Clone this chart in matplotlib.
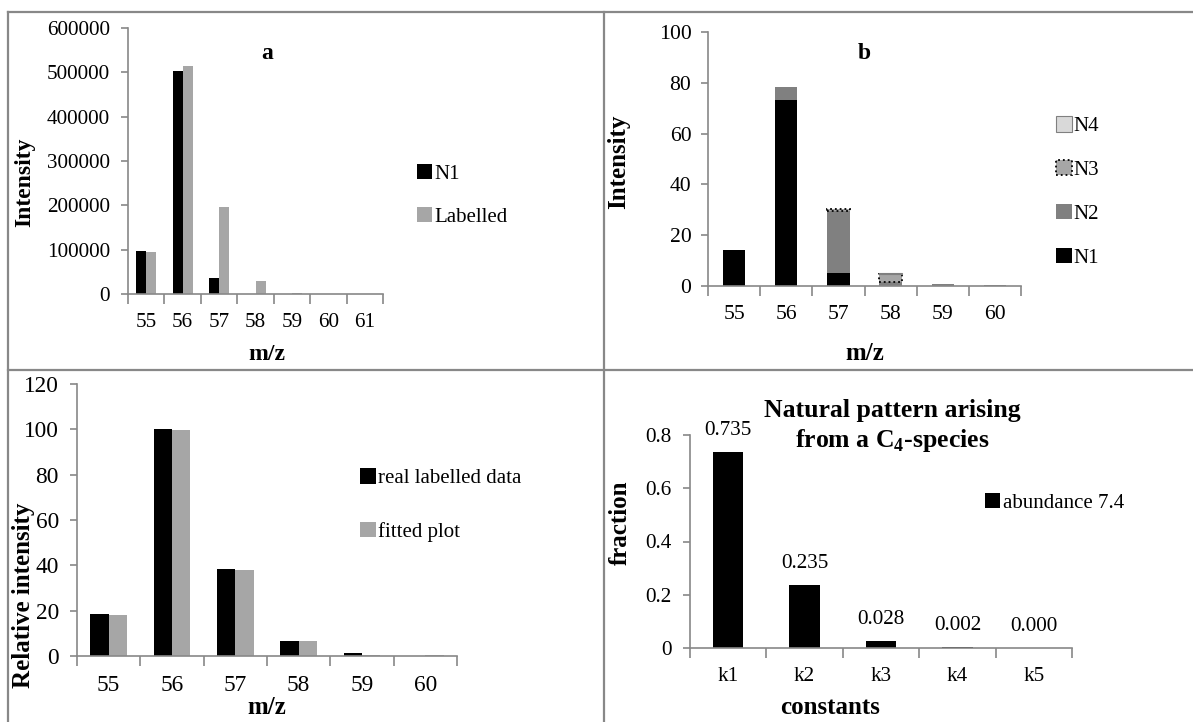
import numpy as np
import matplotlib
matplotlib.use('Agg')
import matplotlib.pyplot as plt
from matplotlib.lines import Line2D

plt.rcParams['font.family'] = ['Liberation Serif', 'DejaVu Serif']
plt.rcParams['font.size'] = 15
plt.rcParams['mathtext.fontset'] = 'custom'
plt.rcParams['mathtext.rm'] = 'Liberation Serif'
plt.rcParams['mathtext.bf'] = 'Liberation Serif:bold'

# panel a
mz_a = ['55', '56', '57', '58', '59', '60', '61']
n1_a = [96000, 503000, 37000, 0, 0, 0, 0]
labelled_a = [94000, 514000, 196000, 29000, 3000, 600, 300]

# panel b (stacked)
mz_b = ['55', '56', '57', '58', '59', '60']
n1_b = [14.2, 73.3, 5.2, 0, 0, 0]
n2_b = [0, 5.0, 24.4, 1.7, 0.7, 0.3]
n3_b = [0, 0, 0.6, 3.2, 0, 0]
n4_b = [0, 0, 0, 0.1, 0, 0]

# panel c
mz_c = ['55', '56', '57', '58', '59', '60']
real_c = [18.4, 100.3, 38.6, 6.8, 1.2, 0.2]
fitted_c = [17.9, 99.8, 38.1, 6.4, 0.6, 0.5]

# panel d
consts = ['k1', 'k2', 'k3', 'k4', 'k5']
fraction = [0.735, 0.235, 0.028, 0.002, 0.000]

W, H = 1193, 722
fig = plt.figure(figsize=(W / 100, H / 100), dpi=100)

SPINE = '#888888'


def px_axes(x0, y0, x1, y1):
    return fig.add_axes([x0 / W, 1 - y1 / H, (x1 - x0) / W, (y1 - y0) / H])


def excel_style(ax, labels, ymax, ystep, fs, ypad=8):
    n = len(labels)
    ax.set_xlim(-0.5, n - 0.5)
    ax.set_ylim(0, ymax)
    ax.set_yticks(np.arange(0, ymax + ystep / 2, ystep))
    ax.set_xticks(np.arange(-0.5, n, 1.0))
    ax.set_xticklabels([])
    ax.set_xticks(np.arange(n), minor=True)
    ax.set_xticklabels(labels, minor=True)
    ax.tick_params(axis='x', which='major', length=7, color=SPINE, width=1.2)
    ax.tick_params(axis='x', which='minor', length=0, pad=14, labelsize=fs)
    ax.tick_params(axis='y', length=5, color=SPINE, width=1.2, pad=ypad,
                   labelsize=fs)
    for s in ['top', 'right']:
        ax.spines[s].set_visible(False)
    for s in ['left', 'bottom']:
        ax.spines[s].set_color(SPINE)
        ax.spines[s].set_linewidth(1.2)


def labels(ax, xl, yl, xpos, ypos, fs=18):
    ax.set_xlabel(xl, fontweight='bold', fontsize=fs, va='center')
    ax.set_ylabel(yl, fontweight='bold', fontsize=fs)
    ax.xaxis.set_label_coords(*xpos)
    ax.yaxis.set_label_coords(*ypos)


def leg(ax, x, y, spacing=1.2, fs=15, **kw):
    lg = ax.legend(loc='center left', bbox_to_anchor=(x, y), frameon=False,
                   handlelength=0.75, handleheight=0.75, handletextpad=0.1,
                   labelspacing=spacing, borderaxespad=0, fontsize=fs, **kw)
    return lg


# ---- a
ax = px_axes(128, 28, 383, 294)
x = np.arange(len(mz_a))
w = 0.275
ax.bar(x - w / 2, n1_a, w, color='black', label='N1')
ax.bar(x + w / 2, labelled_a, w, color='#a6a6a6', label='Labelled')
excel_style(ax, mz_a, 600000, 100000, 15.2)
ax.text(0.545, 0.906, 'a', transform=ax.transAxes, ha='center', va='center',
        fontsize=17, fontweight='bold')
labels(ax, 'm/z', 'Intensity', ((267 - 128) / 255, (294 - 355) / 266),
       (-93 / 255, 0.42), fs=17)
leg(ax, 1.1, 0.37, spacing=1.1)

# ---- b
ax = px_axes(708, 32, 1021, 286)
x = np.arange(len(mz_b))
w = 0.43
b1 = ax.bar(x, n1_b, w, color='black', label='N1')
b2 = ax.bar(x, n2_b, w, bottom=n1_b, color='#808080', label='N2')
bot3 = np.add(n1_b, n2_b)
b3 = ax.bar(x, n3_b, w, bottom=bot3, color='#a6a6a6',
            edgecolor=['black' if v > 0 else 'none' for v in n3_b],
            linestyle=':', linewidth=1.3, label='N3')
bot4 = bot3 + np.array(n3_b)
b4 = ax.bar(x, n4_b, w, bottom=bot4, color='#d9d9d9',
            edgecolor=['#808080' if v > 0 else 'none' for v in n4_b],
            linewidth=0.8, label='N4')
excel_style(ax, mz_b, 100, 20, 15.6, ypad=7)
ax.text(0.5, 0.917, 'b', transform=ax.transAxes, ha='center', va='center',
        fontsize=17, fontweight='bold')
labels(ax, 'm/z', 'Intensity', (0.5, (286 - 354) / 254), (-78 / 313, 0.49))
h3 = plt.Rectangle((0, 0), 1, 1, facecolor='#a6a6a6', edgecolor='black',
                   linestyle=':', linewidth=1.3)
h4 = plt.Rectangle((0, 0), 1, 1, facecolor='#d9d9d9', edgecolor='#808080',
                   linewidth=0.8)
leg(ax, 1.085, 0.37, spacing=1.15, handles=[h4, h3, b2, b1],
    labels=['N4', 'N3', 'N2', 'N1'])

# ---- c
ax = px_axes(77, 384, 457, 656)
x = np.arange(len(mz_c))
w = 0.29
ax.bar(x - w / 2, real_c, w, color='black', label='real labelled data')
ax.bar(x + w / 2, fitted_c, w, color='#a6a6a6', label='fitted plot')
excel_style(ax, mz_c, 120, 20, 16.8)
labels(ax, 'm/z', 'Relative intensity', ((267 - 77) / 380, (656 - 708) / 272),
       (-42 / 380, 0.224))
leg(ax, 0.724, 0.555, spacing=1.6)

# ---- d
ax = px_axes(690, 435, 1072, 648)
x = np.arange(len(consts))
bars = ax.bar(x, fraction, 0.4, color='black', label='abundance 7.4')
excel_style(ax, consts, 0.8, 0.2, 15.2)
ax.set_yticklabels(['0', '0.2', '0.4', '0.6', '0.8'])
for xi, v in zip(x, fraction):
    ax.text(xi, v + 0.045, '%.3f' % v, ha='center', va='bottom', fontsize=15.2)
ax.text(0.529, 1.04, 'Natural pattern arising\nfrom a C$_\\mathbf{4}$-species',
        transform=ax.transAxes, ha='center', va='center', fontsize=18.5,
        fontweight='bold', linespacing=1.25)
labels(ax, 'constants', 'fraction', ((830 - 690) / 382, (648 - 707) / 213),
       (-58 / 382, 0.587))
leg(ax, 0.75, 0.68)

# panel borders
for (xs, ys) in [([8, 1193], [12, 12]), ([8, 1193], [370, 370]),
                 ([8, 8], [12, 722]), ([604, 604], [12, 722])]:
    fig.add_artist(Line2D([v / W for v in xs], [1 - v / H for v in ys],
                          color=SPINE, linewidth=1.6))

fig.savefig('out.png', dpi=100)
